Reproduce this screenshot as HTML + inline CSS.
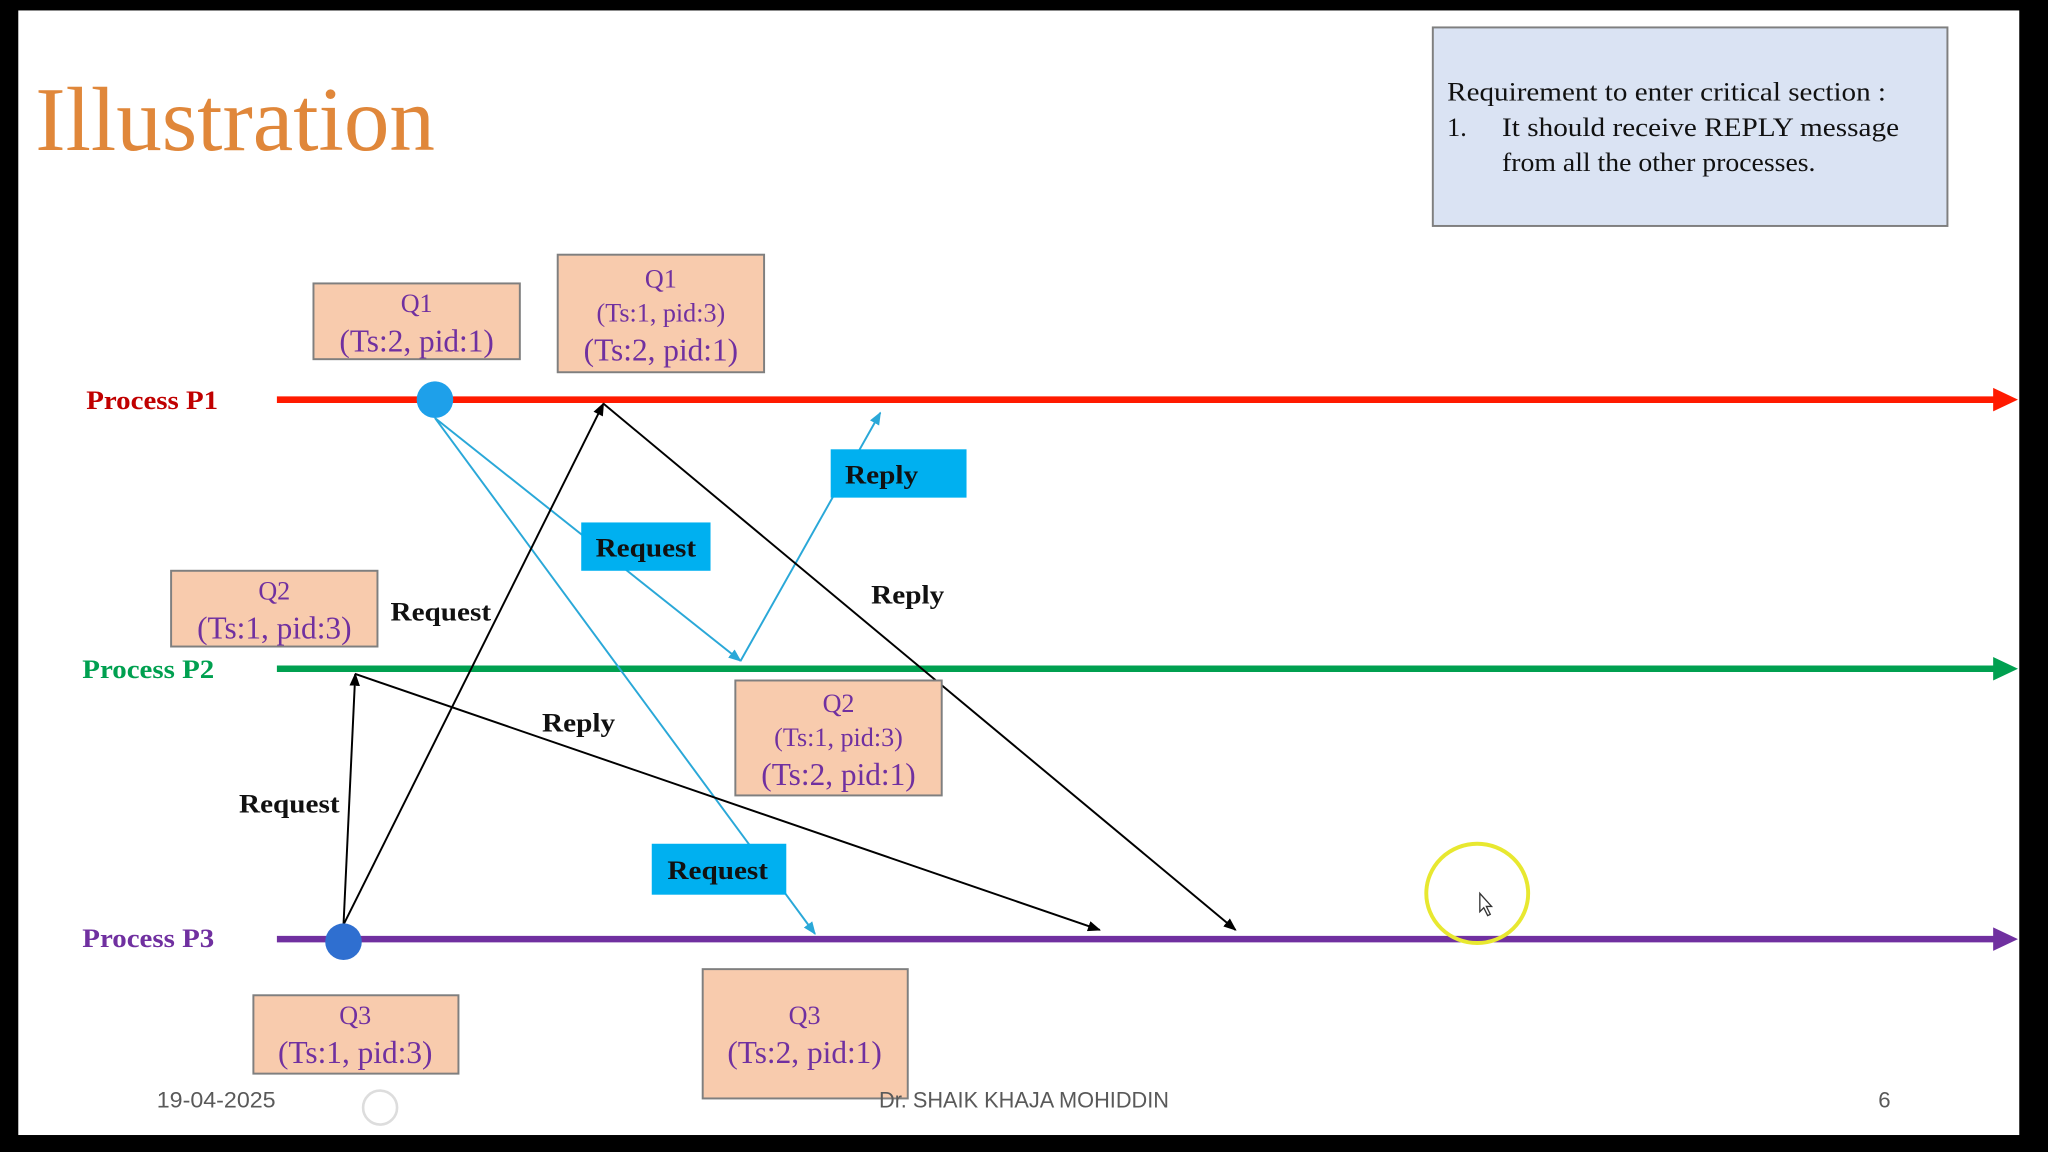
<!DOCTYPE html>
<html><head><meta charset="utf-8"><style>
html,body{margin:0;padding:0;background:#000;width:2048px;height:1152px;overflow:hidden}
svg{display:block}
.s{font-family:"Liberation Serif",serif}
.q{fill:#7030A0;text-anchor:middle}
.b{font-weight:bold}
</style></head><body>
<svg width="2048" height="1152" viewBox="0 0 1568 882" preserveAspectRatio="none" xmlns="http://www.w3.org/2000/svg">
<defs>
<marker id="ab" markerWidth="10" markerHeight="8" refX="9" refY="4" orient="auto" markerUnits="userSpaceOnUse"><path d="M0,0 L10,4 L0,8 z" fill="#000"/></marker>
<marker id="ac" markerWidth="10" markerHeight="8" refX="9" refY="4" orient="auto" markerUnits="userSpaceOnUse"><path d="M0,0 L10,4 L0,8 z" fill="#2AA8D8"/></marker>
</defs>
<rect x="0" y="0" width="1568" height="882" fill="#000"/>
<rect x="14" y="8" width="1532" height="861" fill="#fff"/>
<text x="27" y="115" class="s" font-size="70" fill="#E0873A" textLength="306" lengthAdjust="spacingAndGlyphs">Illustration</text>
<rect x="1097" y="21" width="394" height="152" fill="#DAE3F3" stroke="#7f7f7f" stroke-width="1.5"/>
<g class="s" font-size="20" fill="#111">
<text x="1108" y="77" textLength="336" lengthAdjust="spacingAndGlyphs">Requirement to enter critical section :</text>
<text x="1108" y="104">1.</text><text x="1150" y="104" textLength="304" lengthAdjust="spacingAndGlyphs">It should receive REPLY message</text>
<text x="1150" y="131" textLength="240" lengthAdjust="spacingAndGlyphs">from all the other processes.</text>
</g>
<line x1="212" y1="306" x2="1528" y2="306" stroke="#FF1A00" stroke-width="5"/>
<path d="M1526,297 L1545,306 L1526,315 z" fill="#FF1A00"/>
<line x1="212" y1="512" x2="1528" y2="512" stroke="#00A050" stroke-width="5"/>
<path d="M1526,503 L1545,512 L1526,521 z" fill="#00A050"/>
<line x1="212" y1="719" x2="1528" y2="719" stroke="#7030A0" stroke-width="5"/>
<path d="M1526,710 L1545,719 L1526,728 z" fill="#7030A0"/>
<g class="s b" font-size="20">
<text x="66" y="313" fill="#C00000" textLength="101" lengthAdjust="spacingAndGlyphs">Process P1</text>
<text x="63" y="519" fill="#00A050" textLength="101" lengthAdjust="spacingAndGlyphs">Process P2</text>
<text x="63" y="725" fill="#7030A0" textLength="101" lengthAdjust="spacingAndGlyphs">Process P3</text>
</g>
<g stroke="#2AA8D8" stroke-width="1.5" fill="none">
<line x1="333" y1="320" x2="567" y2="506" marker-end="url(#ac)"/>
<line x1="333" y1="320" x2="624" y2="715" marker-end="url(#ac)"/>
<line x1="567" y1="506" x2="674" y2="316" marker-end="url(#ac)"/>
</g>
<g stroke="#000" stroke-width="1.5" fill="none">
<line x1="263" y1="708" x2="272" y2="516" marker-end="url(#ab)"/>
<line x1="263" y1="708" x2="462" y2="309" marker-end="url(#ab)"/>
<line x1="462" y1="309" x2="946" y2="712" marker-end="url(#ab)"/>
<line x1="272" y1="516" x2="842" y2="712" marker-end="url(#ab)"/>
</g>
<circle cx="333" cy="306" r="14" fill="#1EA0EA"/>
<circle cx="263" cy="721" r="14" fill="#2F6FD0"/>
<g fill="#F8CBAD" stroke="#7f7f7f" stroke-width="1.5">
<rect x="240" y="217" width="158" height="58"/>
<rect x="427" y="195" width="158" height="90"/>
<rect x="131" y="437" width="158" height="58"/>
<rect x="563" y="521" width="158" height="88"/>
<rect x="194" y="762" width="157" height="60"/>
<rect x="538" y="742" width="157" height="99"/>
</g>
<g class="s q">
<text x="319" y="239" font-size="20">Q1</text><text x="319" y="269" font-size="24">(Ts:2, pid:1)</text>
<text x="506" y="220" font-size="20">Q1</text><text x="506" y="246" font-size="20">(Ts:1, pid:3)</text><text x="506" y="276" font-size="24">(Ts:2, pid:1)</text>
<text x="210" y="459" font-size="20">Q2</text><text x="210" y="489" font-size="24">(Ts:1, pid:3)</text>
<text x="642" y="545" font-size="20">Q2</text><text x="642" y="571" font-size="20">(Ts:1, pid:3)</text><text x="642" y="601" font-size="24">(Ts:2, pid:1)</text>
<text x="272" y="784" font-size="20">Q3</text><text x="272" y="814" font-size="24">(Ts:1, pid:3)</text>
<text x="616" y="784" font-size="20">Q3</text><text x="616" y="814" font-size="24">(Ts:2, pid:1)</text>
</g>
<g fill="#00B0F0">
<rect x="636" y="344" width="104" height="37"/>
<rect x="445" y="400" width="99" height="37"/>
<rect x="499" y="646" width="103" height="39"/>
</g>
<g class="s b" font-size="20" fill="#111">
<text x="647" y="370" textLength="56" lengthAdjust="spacingAndGlyphs">Reply</text>
<text x="456" y="426" textLength="77" lengthAdjust="spacingAndGlyphs">Request</text>
<text x="511" y="673" textLength="77" lengthAdjust="spacingAndGlyphs">Request</text>
<text x="299" y="475" textLength="77" lengthAdjust="spacingAndGlyphs">Request</text>
<text x="667" y="462" textLength="56" lengthAdjust="spacingAndGlyphs">Reply</text>
<text x="415" y="560" textLength="56" lengthAdjust="spacingAndGlyphs">Reply</text>
<text x="183" y="622" textLength="77" lengthAdjust="spacingAndGlyphs">Request</text>
</g>
<ellipse cx="1131" cy="684" rx="39" ry="38" fill="none" stroke="#E8E830" stroke-width="3"/>
<path d="M1133,684 L1133,698 L1136,695 L1139,701 L1141,700 L1138,694 L1142,694 z" fill="#fff" stroke="#333" stroke-width="1"/>
<circle cx="291" cy="848" r="13" fill="none" stroke="#ddd" stroke-width="2"/>
<g font-family="Liberation Sans,sans-serif" font-size="17" fill="#595959">
<text x="120" y="848" textLength="91" lengthAdjust="spacingAndGlyphs">19-04-2025</text>
<text x="673" y="848" textLength="222" lengthAdjust="spacingAndGlyphs">Dr. SHAIK KHAJA MOHIDDIN</text>
<text x="1438" y="848">6</text>
</g>
</svg>
</body></html>
